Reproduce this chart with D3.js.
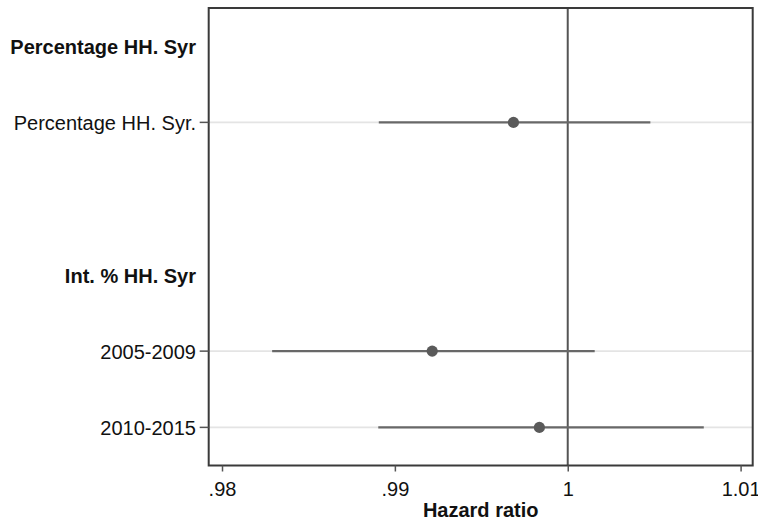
<!DOCTYPE html>
<html>
<head>
<meta charset="utf-8">
<script src="https://cdn.jsdelivr.net/npm/d3@7"></script>
<style>
  html, body { margin: 0; padding: 0; background: #fff; }
  svg { display: block; font-family: "Liberation Sans", Arial, Helvetica, sans-serif; }
</style>
</head>
<body>
<svg id="chart" width="758" height="522"></svg>
<script>
// ---- data ----
const rowLabels = ["Percentage HH. Syr", "Percentage HH. Syr.", "", "Int. % HH. Syr", "2005-2009", "2010-2015"];
const rowIsHeading = [true, false, false, true, false, false];
const estimates = [null, 0.99686, null, null, 0.99216, 0.99836];
const ciLow     = [null, 0.98907, null, null, 0.98290, 0.98904];
const ciHigh    = [null, 1.00478, null, null, 1.00156, 1.00787];
const xTicks = [0.98, 0.99, 1, 1.01];
const xTickLabels = [".98", ".99", "1", "1.01"];
const xTitle = "Hazard ratio";
const refValue = 1;

// ---- layout ----
const svg = d3.select("#chart");
const plotLeft = 208.7, plotRight = 752.7, plotTop = 8, plotBottom = 465.5;

const x = d3.scaleLinear().domain([0.97923, 1.0107]).range([plotLeft, plotRight]);
const y = d3.scaleLinear().domain([-0.5, rowLabels.length - 0.5]).range([plotTop, plotBottom]);

const dataRows = d3.range(rowLabels.length).filter(i => estimates[i] !== null);

// gridlines
svg.append("g").selectAll("line").data(dataRows).join("line")
  .attr("x1", plotLeft).attr("x2", plotRight)
  .attr("y1", d => y(d)).attr("y2", d => y(d))
  .attr("stroke", "#e4e4e4").attr("stroke-width", 1.6);

// reference line
svg.append("line")
  .attr("x1", x(refValue)).attr("x2", x(refValue))
  .attr("y1", plotTop).attr("y2", plotBottom)
  .attr("stroke", "#555").attr("stroke-width", 2);

// CIs
svg.append("g").selectAll("line").data(dataRows).join("line")
  .attr("x1", d => x(ciLow[d])).attr("x2", d => x(ciHigh[d]))
  .attr("y1", d => y(d)).attr("y2", d => y(d))
  .attr("stroke", "#686868").attr("stroke-width", 2.4);

// points
svg.append("g").selectAll("circle").data(dataRows).join("circle")
  .attr("cx", d => x(estimates[d])).attr("cy", d => y(d))
  .attr("r", 5.6).attr("fill", "#5a5a5a");

// frame
svg.append("rect")
  .attr("x", plotLeft).attr("y", plotTop)
  .attr("width", plotRight - plotLeft).attr("height", plotBottom - plotTop)
  .attr("fill", "none").attr("stroke", "#3a3a3a").attr("stroke-width", 2);

// x axis
const xAxis = d3.axisBottom(x).tickValues(xTicks)
  .tickFormat((d, i) => xTickLabels[i]).tickSize(6).tickPadding(10);
const gx = svg.append("g").attr("transform", `translate(0,${plotBottom})`).call(xAxis);
gx.select(".domain").remove();
gx.selectAll(".tick line").attr("stroke", "#555").attr("stroke-width", 1.5);
gx.selectAll(".tick text").attr("font-size", 20).attr("fill", "#111")
  .attr("font-family", '"Liberation Sans", Arial, sans-serif');

svg.append("text")
  .attr("x", (plotLeft + plotRight) / 2).attr("y", 517)
  .attr("text-anchor", "middle").attr("font-size", 20).attr("font-weight", "bold")
  .attr("fill", "#111").text(xTitle);

// y ticks (data rows only)
svg.append("g").selectAll("line").data(dataRows).join("line")
  .attr("x1", plotLeft - 9).attr("x2", plotLeft)
  .attr("y1", d => y(d)).attr("y2", d => y(d))
  .attr("stroke", "#555").attr("stroke-width", 1.5);

// row labels
svg.append("g").selectAll("text").data(d3.range(rowLabels.length)).join("text")
  .attr("x", 196).attr("y", d => y(d) + 8)
  .attr("text-anchor", "end").attr("font-size", 20)
  .attr("font-weight", d => rowIsHeading[d] ? "bold" : "normal")
  .attr("fill", "#111")
  .text(d => rowLabels[d]);
</script>
</body>
</html>
